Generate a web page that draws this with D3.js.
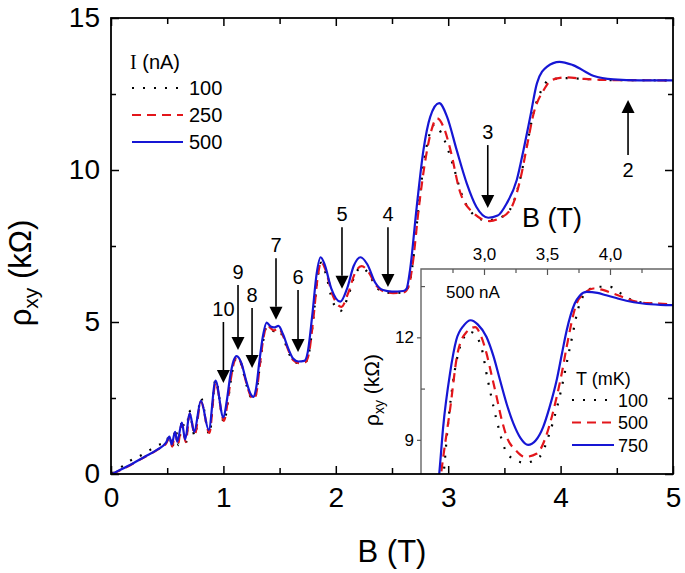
<!DOCTYPE html>
<html><head><meta charset="utf-8">
<script src="https://cdn.jsdelivr.net/npm/d3@7"></script>
<style>body{margin:0;background:#fff}svg{display:block}</style>
</head><body>
<svg id="c" width="685" height="573"></svg>
<script>
// ---------- data (B in T, rho_xy in kOhm) ----------
const main100 = [[0.01,0.02],[0.104,0.26],[0.2,0.5],[0.244,0.57],[0.355,0.81],[0.44,0.98],[0.49,1.02],[0.52,1.3],[0.545,0.85],[0.575,1.5],[0.60,0.95],[0.635,1.8],[0.665,0.98],[0.695,2.1],[0.745,1.25],[0.80,2.5],[0.875,1.3],[0.93,3.1],[1.005,1.7],[1.035,2.25],[1.065,3.05],[1.095,3.65],[1.12,3.82],[1.16,3.6],[1.20,3.0],[1.24,2.55],[1.27,2.45],[1.295,2.7],[1.325,3.6],[1.355,4.4],[1.385,4.85],[1.42,4.78],[1.45,4.7],[1.49,4.75],[1.53,4.5],[1.58,4.0],[1.62,3.72],[1.67,3.65],[1.73,3.68],[1.76,3.95],[1.80,5.1],[1.84,6.5],[1.87,6.95],[1.91,6.6],[1.97,5.7],[2.04,5.36],[2.11,5.85],[2.17,6.55],[2.23,6.8],[2.29,6.6],[2.36,6.15],[2.43,5.98],[2.51,5.95],[2.61,5.98],[2.65,6.2],[2.68,6.8],[2.74,8.9],[2.79,10.4],[2.84,11.25],[2.88,11.5],[2.94,11.2],[3.04,10.2],[3.12,9.2],[3.22,8.55],[3.33,8.35],[3.45,8.42],[3.55,8.7],[3.64,9.7],[3.70,10.8],[3.76,11.9],[3.84,12.7],[3.90,12.97],[4.05,13.02],[4.2,13.0],[4.4,12.96],[5.0,12.95]];
const main250 = [[0.01,0],[0.15,0.25],[0.30,0.56],[0.415,0.8],[0.49,1.0],[0.52,1.18],[0.545,0.9],[0.57,1.35],[0.595,0.98],[0.63,1.65],[0.665,1.05],[0.70,1.98],[0.745,1.3],[0.80,2.38],[0.875,1.35],[0.93,3.0],[1.005,1.75],[1.035,2.3],[1.065,3.1],[1.095,3.68],[1.12,3.85],[1.16,3.62],[1.20,3.05],[1.24,2.58],[1.27,2.46],[1.295,2.7],[1.325,3.6],[1.355,4.45],[1.39,4.9],[1.42,4.8],[1.45,4.72],[1.49,4.8],[1.53,4.55],[1.58,4.05],[1.62,3.75],[1.67,3.65],[1.73,3.68],[1.76,3.95],[1.80,5.1],[1.84,6.5],[1.87,6.98],[1.91,6.7],[1.97,5.9],[2.05,5.5],[2.11,5.95],[2.17,6.6],[2.23,6.84],[2.29,6.65],[2.36,6.2],[2.43,6.0],[2.51,5.95],[2.61,5.98],[2.65,6.2],[2.68,6.8],[2.74,8.8],[2.80,10.4],[2.85,11.3],[2.90,11.7],[2.96,11.4],[3.02,10.66],[3.10,9.34],[3.22,8.6],[3.37,8.32],[3.45,8.4],[3.55,8.68],[3.64,9.67],[3.70,10.77],[3.76,11.86],[3.85,12.63],[3.92,12.96],[4.05,13.05],[4.2,13.0],[4.4,12.96],[5.0,12.95]];
const main500 = [[0.01,0],[0.15,0.26],[0.30,0.57],[0.415,0.81],[0.49,1.03],[0.52,1.23],[0.54,0.97],[0.57,1.39],[0.59,1.06],[0.63,1.69],[0.66,1.14],[0.70,2.0],[0.74,1.39],[0.80,2.41],[0.87,1.45],[0.93,3.07],[1.00,1.86],[1.03,2.4],[1.06,3.2],[1.09,3.72],[1.118,3.88],[1.16,3.65],[1.20,3.1],[1.24,2.65],[1.266,2.54],[1.29,2.8],[1.32,3.7],[1.35,4.5],[1.385,4.98],[1.42,4.85],[1.45,4.82],[1.49,4.87],[1.53,4.6],[1.58,4.1],[1.62,3.8],[1.667,3.7],[1.72,3.72],[1.75,4.0],[1.79,5.2],[1.83,6.6],[1.865,7.13],[1.90,6.9],[1.96,6.1],[2.04,5.67],[2.10,6.1],[2.16,6.85],[2.22,7.13],[2.28,6.9],[2.35,6.3],[2.42,6.05],[2.50,6.0],[2.60,6.02],[2.63,6.1],[2.66,6.7],[2.72,8.79],[2.78,10.66],[2.84,11.75],[2.92,12.2],[2.99,11.75],[3.075,10.66],[3.165,9.56],[3.25,8.79],[3.357,8.43],[3.44,8.5],[3.52,8.9],[3.61,9.67],[3.67,10.66],[3.73,11.75],[3.79,12.86],[3.88,13.4],[3.99,13.56],[4.11,13.45],[4.29,13.1],[4.47,12.98],[4.7,12.95],[5.0,12.95]];

const inset100 = [[2.655,7.2],[2.68,8.02],[2.71,9.29],[2.76,10.84],[2.83,11.92],[2.89,12.16],[2.97,11.82],[3.03,10.75],[3.10,9.58],[3.17,8.7],[3.25,8.4],[3.325,8.33],[3.44,8.5],[3.52,9.19],[3.6,10.26],[3.683,11.72],[3.76,12.99],[3.82,13.35],[3.89,13.48],[4.0,13.48],[4.08,13.3],[4.17,13.1],[4.3,13.0],[4.5,12.96]];
const inset500 = [[2.635,7.2],[2.66,8.02],[2.73,9.87],[2.79,11.53],[2.86,12.15],[2.93,12.3],[2.975,12.05],[3.02,11.53],[3.06,10.9],[3.10,10.26],[3.14,9.6],[3.18,9.09],[3.25,8.7],[3.325,8.5],[3.42,8.6],[3.5,9.19],[3.54,9.7],[3.577,10.26],[3.62,11.0],[3.656,11.72],[3.735,12.99],[3.8,13.3],[3.868,13.43],[3.95,13.38],[4.02,13.29],[4.1,13.18],[4.18,13.07],[4.3,13.0],[4.39,12.99],[4.5,12.96]];
const inset750 = [[2.62,7.2],[2.645,8.02],[2.676,9.38],[2.73,10.94],[2.78,11.92],[2.84,12.35],[2.894,12.5],[2.95,12.38],[3.02,12.01],[3.075,11.45],[3.127,10.75],[3.18,10.05],[3.233,9.48],[3.29,9.05],[3.35,8.85],[3.41,8.98],[3.47,9.38],[3.52,9.95],[3.577,10.75],[3.62,11.55],[3.656,12.2],[3.72,12.99],[3.76,13.22],[3.815,13.33],[3.9,13.3],[3.97,13.23],[4.05,13.15],[4.13,13.07],[4.26,12.99],[4.4,12.95],[4.5,12.94]];

const xTicks = [0,1,2,3,4,5];
const xMinor = [0.5,1.5,2.5,3.5,4.5];
const yTicks = [0,5,10,15];
const yMinor = [2.5,7.5,12.5];
const insetXTicks = [3.0,3.5,4.0];
const insetXLabels = ["3,0","3,5","4,0"];
const insetXMinor = [2.75,3.25,3.75,4.25];
const insetYTicks = [9,12];
const insetYLabels = ["9","12"];
const insetYMinor = [10.5,13.5];

const legendMain = ["100","250","500"];
const legendInset = ["100","500","750"];
// arrows: label, B, tip rho, tail rho
const arrowLabels = ["10","9","8","7","6","5","4","3","2"];
const arrowB     = [1.0, 1.13, 1.255, 1.468, 1.664, 2.055, 2.464, 3.352, 4.6];
const arrowTip   = [2.99, 4.08, 3.49, 5.07, 4.01, 6.09, 6.15, 8.75, 12.3];
const arrowTail  = [5.0, 6.22, 5.46, 7.1, 6.05, 8.12, 8.12, 10.82, 10.49];

// ---------- drawing ----------
const FONT = "'Liberation Sans', Arial, Helvetica, sans-serif";
const svg = d3.select("#c");
const L=111, R=673, T=18, Bt=474;
const x = d3.scaleLinear([0,5],[L,R]);
const y = d3.scaleLinear([0,15],[Bt,T]);
const IL=421, IT=269;
const ix = d3.scaleLinear([2.5,4.5],[IL,R]);
const iy = d3.scaleLinear([8,14],[Bt,IT]);

const styles = [
  {color:"#000", width:2.2, dash:"2,9", cap:"butt"},
  {color:"#e3161b", width:2.2, dash:"9,6", cap:"butt"},
  {color:"#1616d4", width:2.2, dash:null, cap:"butt"}
];

const defs = svg.append("defs");
defs.append("clipPath").attr("id","cm").append("rect").attr("x",L).attr("y",T).attr("width",R-L).attr("height",Bt-T);
defs.append("clipPath").attr("id","ci").append("rect").attr("x",IL).attr("y",IT).attr("width",R-IL).attr("height",Bt-IT);

function drawLine(g, data, sx, sy, st){
  const line = d3.line().x(d=>sx(d[0])).y(d=>sy(d[1])).curve(d3.curveMonotoneX);
  const p = g.append("path").attr("d", line(data)).attr("fill","none")
    .attr("stroke", st.color).attr("stroke-width", st.width).attr("stroke-linecap", st.cap)
    .attr("stroke-linejoin","round");
  if(st.dash) p.attr("stroke-dasharray", st.dash);
}

const gm = svg.append("g").attr("clip-path","url(#cm)");
[main100, main250, main500].forEach((d,i)=>drawLine(gm,d,x,y,styles[i]));

// arrows
const ga = svg.append("g");
arrowLabels.forEach((lab,i)=>{
  const px = x(arrowB[i]);
  const tip = y(arrowTip[i]), tail = y(arrowTail[i]);
  const dir = tip > tail ? 1 : -1; // 1 = down
  const hl = 13, hw = 6.5;
  ga.append("line").attr("x1",px).attr("x2",px).attr("y1",tail).attr("y2",tip - dir*hl)
    .attr("stroke","#000").attr("stroke-width",1.6);
  ga.append("path").attr("d",`M${px-hw},${tip-dir*hl}L${px+hw},${tip-dir*hl}L${px},${tip}Z`).attr("fill","#000");
  ga.append("text").attr("x",px).attr("y", dir===1 ? tail-6 : tail+22)
    .attr("text-anchor","middle").attr("font-family",FONT).attr("font-size",20).text(lab);
});

// main legend
const gl = svg.append("g").attr("font-family",FONT).attr("font-size",20);
const lt = gl.append("text").attr("x",130).attr("y",69);
lt.append("tspan").attr("font-family","'Liberation Serif', 'Times New Roman', serif").text("I");
lt.append("tspan").text(" (nA)");
legendMain.forEach((lab,i)=>{
  const yy = 88 + i*27;
  gl.append("line").attr("x1",132).attr("x2",183).attr("y1",yy).attr("y2",yy)
    .attr("stroke",styles[i].color).attr("stroke-width",styles[i].width)
    .attr("stroke-dasharray",styles[i].dash);
  gl.append("text").attr("x",189).attr("y",yy+7).text(lab);
});

// ---------- inset ----------
svg.append("rect").attr("x",IL).attr("y",IT).attr("width",R-IL).attr("height",Bt-IT).attr("fill","#fff");
const gi = svg.append("g").attr("clip-path","url(#ci)");
[inset100, inset500, inset750].forEach((d,i)=>drawLine(gi,d,ix,iy,styles[i]));
svg.append("path").attr("d",`M${IL},${Bt}V${IT}H${R}`).attr("fill","none").attr("stroke","#666").attr("stroke-width",1.4);

// inset axes
const itop = svg.append("g").attr("transform",`translate(0,${IT})`)
  .call(d3.axisTop(ix).tickValues(insetXTicks).tickSize(-6).tickPadding(9).tickFormat((d,i)=>insetXLabels[i]));
const itopm = svg.append("g").attr("transform",`translate(0,${IT})`)
  .call(d3.axisTop(ix).tickValues(insetXMinor).tickSize(-4).tickFormat(""));
const ileft = svg.append("g").attr("transform",`translate(${IL},0)`)
  .call(d3.axisLeft(iy).tickValues(insetYTicks).tickSize(4).tickPadding(3).tickFormat((d,i)=>insetYLabels[i]));
const ileftm = svg.append("g").attr("transform",`translate(${IL},0)`)
  .call(d3.axisLeft(iy).tickValues(insetYMinor).tickSize(-4).tickFormat(""));
[itop,itopm,ileft,ileftm].forEach(g=>{
  g.select(".domain").remove();
  g.selectAll("line").attr("stroke","#555").attr("stroke-width",1.2);
  g.selectAll("text").attr("font-family",FONT).attr("font-size",17).attr("fill","#000");
});

const gil = svg.append("g").attr("font-family",FONT);
gil.append("text").attr("x",446).attr("y",298).attr("font-size",17).text("500 nA");
gil.append("text").attr("x",522).attr("y",227).attr("font-size",27).text("B (T)");
gil.append("text").attr("x",576).attr("y",385).attr("font-size",18).text("T (mK)");
legendInset.forEach((lab,i)=>{
  const yy = 400 + i*22.5;
  gil.append("line").attr("x1",572).attr("x2",614).attr("y1",yy).attr("y2",yy)
    .attr("stroke",styles[i].color).attr("stroke-width",styles[i].width)
    .attr("stroke-dasharray",styles[i].dash);
  gil.append("text").attr("x",618).attr("y",yy+6.5).attr("font-size",18).text(lab);
});
const iyl = gil.append("text").attr("transform","translate(379,390) rotate(-90)")
  .attr("text-anchor","middle").attr("font-size",21);
iyl.append("tspan").text("ρ");
iyl.append("tspan").attr("font-size",14).attr("dy",5).text("xy");
iyl.append("tspan").attr("dy",-5).text(" (kΩ)");

// ---------- main axes ----------
function styleAxis(g, fs){
  g.select(".domain").remove();
  g.selectAll("line").attr("stroke","#000").attr("stroke-width",1.5);
  g.selectAll("text").attr("font-family",FONT).attr("font-size",fs).attr("fill","#000");
}
styleAxis(svg.append("g").attr("transform",`translate(0,${Bt})`)
  .call(d3.axisBottom(x).tickValues(xTicks).tickSize(-8).tickPadding(13).tickFormat(d3.format("d"))),28);
styleAxis(svg.append("g").attr("transform",`translate(0,${Bt})`)
  .call(d3.axisBottom(x).tickValues(xMinor).tickSize(-6).tickFormat("")),28);
styleAxis(svg.append("g").attr("transform",`translate(0,${T})`)
  .call(d3.axisTop(x).tickValues(xTicks).tickSize(-8).tickFormat("")),28);
styleAxis(svg.append("g").attr("transform",`translate(0,${T})`)
  .call(d3.axisTop(x).tickValues(xMinor).tickSize(-6).tickFormat("")),28);
styleAxis(svg.append("g").attr("transform",`translate(${L},0)`)
  .call(d3.axisLeft(y).tickValues(yTicks).tickSize(-8).tickPadding(11).tickFormat(d3.format("d"))),28);
styleAxis(svg.append("g").attr("transform",`translate(${L},0)`)
  .call(d3.axisLeft(y).tickValues(yMinor).tickSize(-5).tickFormat("")),28);
styleAxis(svg.append("g").attr("transform",`translate(${R},0)`)
  .call(d3.axisRight(y).tickValues(yTicks).tickSize(-8).tickFormat("")),28);
styleAxis(svg.append("g").attr("transform",`translate(${R},0)`)
  .call(d3.axisRight(y).tickValues(yMinor).tickSize(-5).tickFormat("")),28);
svg.append("rect").attr("x",L).attr("y",T).attr("width",R-L).attr("height",Bt-T)
  .attr("fill","none").attr("stroke","#000").attr("stroke-width",1.8);

// axis titles
svg.append("text").attr("x",392).attr("y",562).attr("text-anchor","middle")
  .attr("font-family",FONT).attr("font-size",31).text("B (T)");
const yl = svg.append("text").attr("transform","translate(31,273) rotate(-90)")
  .attr("text-anchor","middle").attr("font-family",FONT).attr("font-size",31);
yl.append("tspan").text("ρ");
yl.append("tspan").attr("font-size",21).attr("dy",7).text("xy");
yl.append("tspan").attr("dy",-7).text(" (kΩ)");
</script>
</body></html>
